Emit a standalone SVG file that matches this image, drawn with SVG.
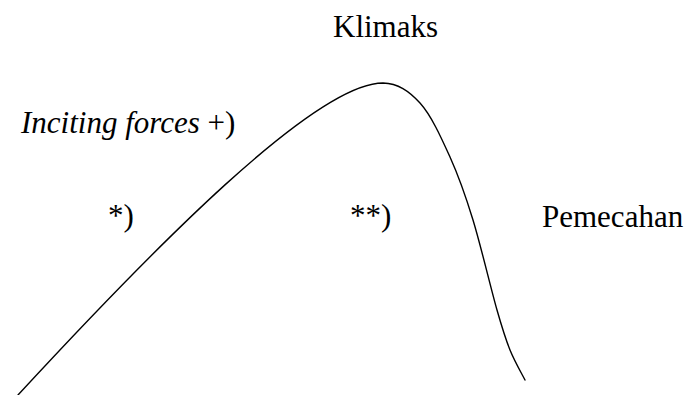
<svg xmlns="http://www.w3.org/2000/svg" width="688" height="395" viewBox="0 0 688 395">
<style>
.curve{fill:none;stroke:#000;stroke-width:1.4;stroke-linecap:round;stroke-linejoin:round}
.t{font-family:'Liberation Serif','Times New Roman',serif;font-size:31px;fill:#000}
.it{font-style:italic}
</style>
<rect width="688" height="395" fill="#fff"/>
<g id="connectors">
<path class="curve" d="M18,395 C152,250 315,83 383,83 C398,83.5 408.8,90.7 420,103 C431.2,115.3 441.2,137.5 450,157 C458.8,176.5 465.2,194.5 473,220 C480.8,245.5 490.8,288.3 497,310 C503.2,331.7 505.3,338.3 510,350 C514.7,361.7 522.5,375 525,380"/>
</g>
<g id="klimaks"><text x="333" y="37" class="t">Klimaks</text></g>
<g id="inciting"><text x="21" y="133" class="t"><tspan class="it">Inciting forces</tspan> +)</text></g>
<g id="star1"><text x="108" y="226" class="t">*)</text></g>
<g id="star2"><text x="350" y="226" class="t">**)</text></g>
<g id="pemecahan"><text x="542" y="227" class="t">Pemecahan</text></g>
</svg>
